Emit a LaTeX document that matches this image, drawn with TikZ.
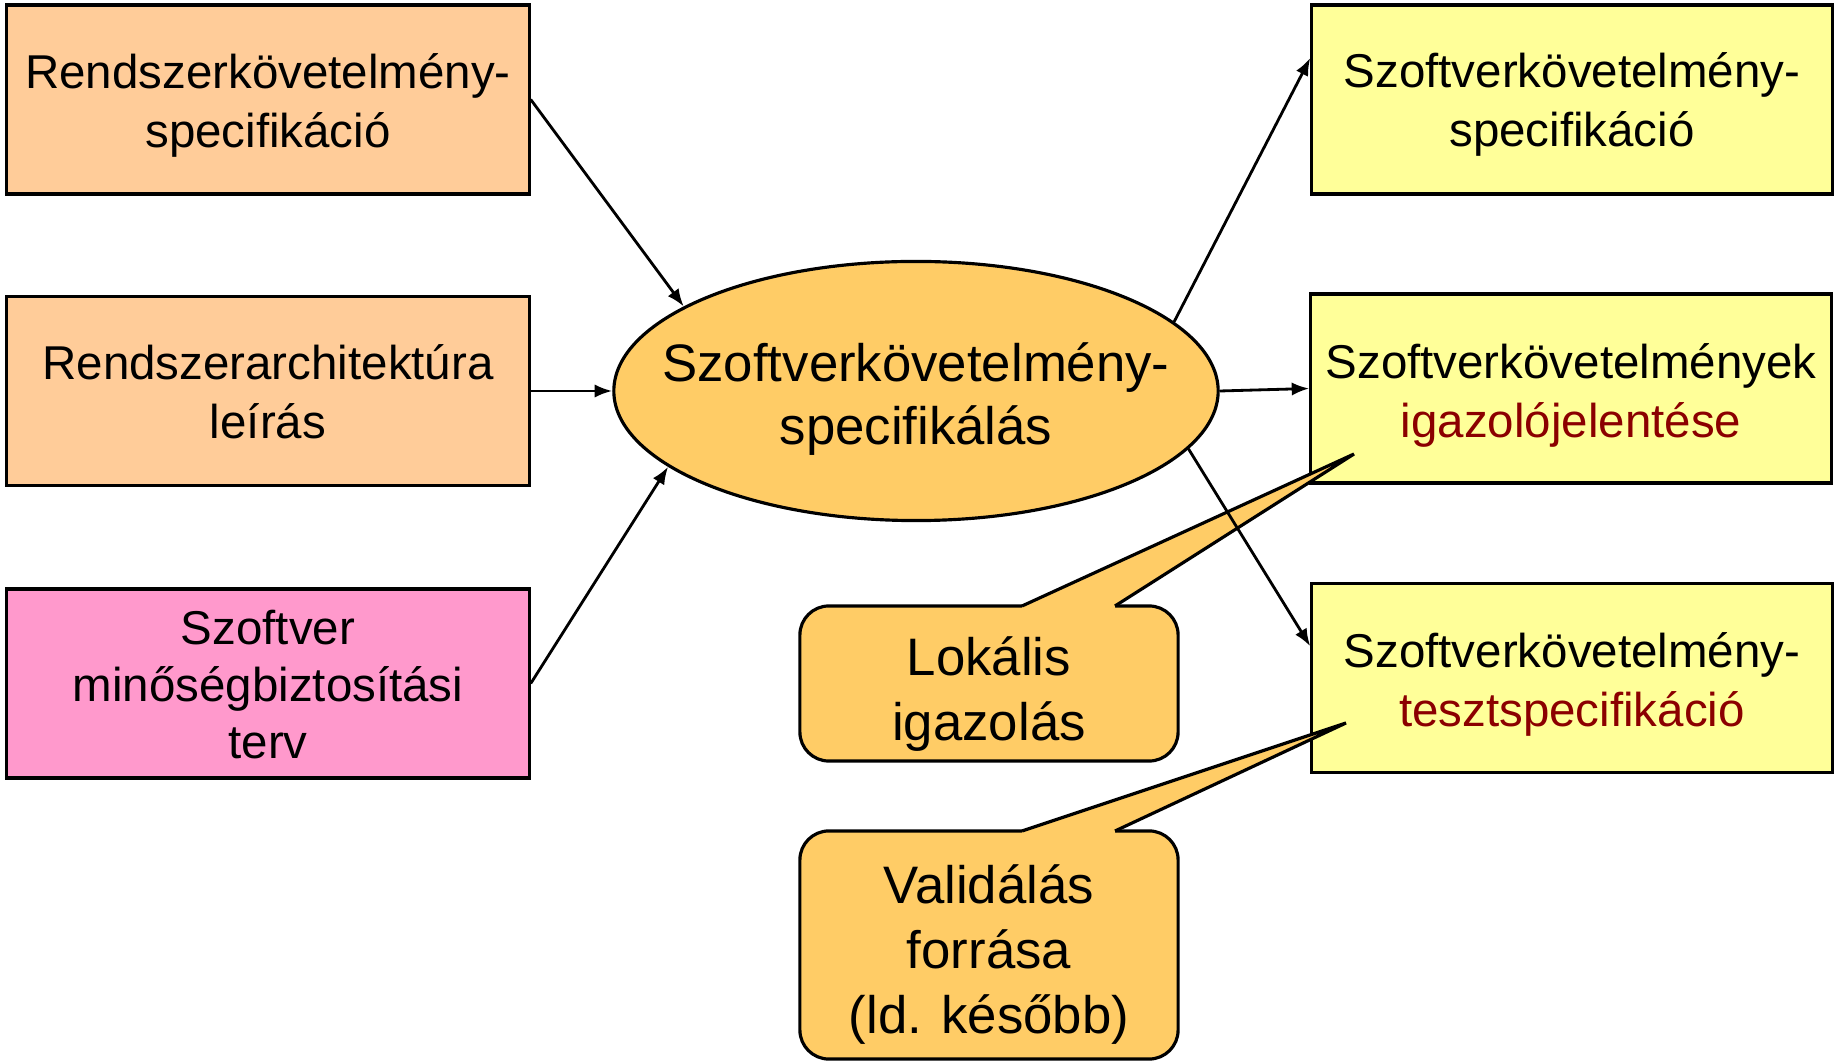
\documentclass[tikz,border=0pt]{standalone}
\usepackage{fontspec}
\setmainfont{Liberation Sans}
\usetikzlibrary{arrows.meta,shapes.geometric,calc}
\definecolor{peach}{HTML}{FFCC99}
\definecolor{pinkbox}{HTML}{FF99CC}
\definecolor{yellowbox}{HTML}{FFFF99}
\definecolor{orangefill}{HTML}{FFCC66}
\definecolor{darkred}{HTML}{8B0000}
\begin{document}
\begin{tikzpicture}[x=0.01cm,y=-0.01cm,
  box/.style={draw=black, line width=0.9pt, inner sep=0pt,
    minimum width=5.22cm, minimum height=1.89cm},
  rbox/.style={box, fill=yellowbox, minimum width=5.2cm},
  boxtext/.style={align=center, inner sep=0pt, font=\fontsize{13.5}{16.8}\selectfont},
  bigtext/.style={align=center, inner sep=0pt, font=\fontsize{15}{18}\selectfont},
  callout/.style={draw=black, line width=0.9pt, fill=orangefill, rounded corners=0.29cm,
    minimum width=3.78cm, inner sep=0pt},
  calltext/.style={align=center, inner sep=0pt, font=\fontsize{15}{18.4}\selectfont},
  conn/.style={line width=0.8pt, -{Latex[length=5pt,width=3.8pt]}},
  pointer/.style={line width=0.9pt, line join=miter}
]
\useasboundingbox (0,0) rectangle (1835,1061);

% left boxes
\node[box, fill=peach, label={[boxtext, yshift=-0.06cm]center:{Rendszerkövetelmény-\\specifikáció}}] (L1) at (268,99.5) {};
\node[box, fill=peach, label={[boxtext, yshift=-0.01cm]center:{Rendszerarchitektúra\\leírás}}] (L2) at (268,391) {};
\node[box, fill=pinkbox, label={[boxtext, font=\fontsize{13.5}{16.3}\selectfont, yshift=-0.01cm]center:{Szoftver\\minőségbiztosítási\\terv}}] (L3) at (268,683.5) {};

% right boxes
\node[rbox, label={[boxtext, yshift=-0.05cm]center:{Szoftverkövetelmény-\\specifikáció}}] (R1) at (1572,99.5) {};
\node[rbox, label={[boxtext, yshift=-0.07cm]center:{Szoftverkövetelmények\\\textcolor{darkred}{igazolójelentése}}}] (R2) at (1571,388.5) {};
\node[rbox, label={[boxtext, yshift=-0.06cm]center:{Szoftverkövetelmény-\\\textcolor{darkred}{tesztspecifikáció}}}] (R3) at (1572,678) {};

% central ellipse
\node[ellipse, draw=black, line width=0.9pt, fill=orangefill, inner sep=0pt,
  minimum width=6.04cm, minimum height=2.59cm] (E) at (916,391) {};
\node[bigtext] (Etext) at (916,399) {Szoftverkövetelmény-\\specifikálás};

% callouts
\node[callout, minimum height=1.55cm, label={[calltext, yshift=-0.105cm]center:{Lokális\\igazolás}}] (C1) at (989,683.5) {};
\fill[orangefill] (1022,606) -- (1354,454) -- (1115,606) -- (1115,612) -- (1022,612) -- cycle;
\draw[pointer] (1022,606) -- (1354,454) -- (1115,606);

\node[callout, minimum height=2.28cm, label={[calltext, yshift=-0.095cm]center:{Validálás\\forrása\\(ld. később)}}] (C2) at (989,945) {};
\fill[orangefill] (1022,831) -- (1346,723) -- (1115,831) -- (1115,837) -- (1022,837) -- cycle;
\draw[pointer] (1022,831) -- (1346,723) -- (1115,831);

% connectors
\draw[conn] (L1.east) -- (E.160);
\draw[conn] (L2.east) -- (E.west);
\draw[conn] (L3.east) -- (E.197);
\draw[conn] (E.15) -- ($(R1.north west)!0.284!(R1.south west)$);
\draw[conn] (E.east) -- (R2.west);
\draw[conn] (E.-12.6) -- ($(R3.north west)!0.335!(R3.south west)$);
\end{tikzpicture}
\end{document}
